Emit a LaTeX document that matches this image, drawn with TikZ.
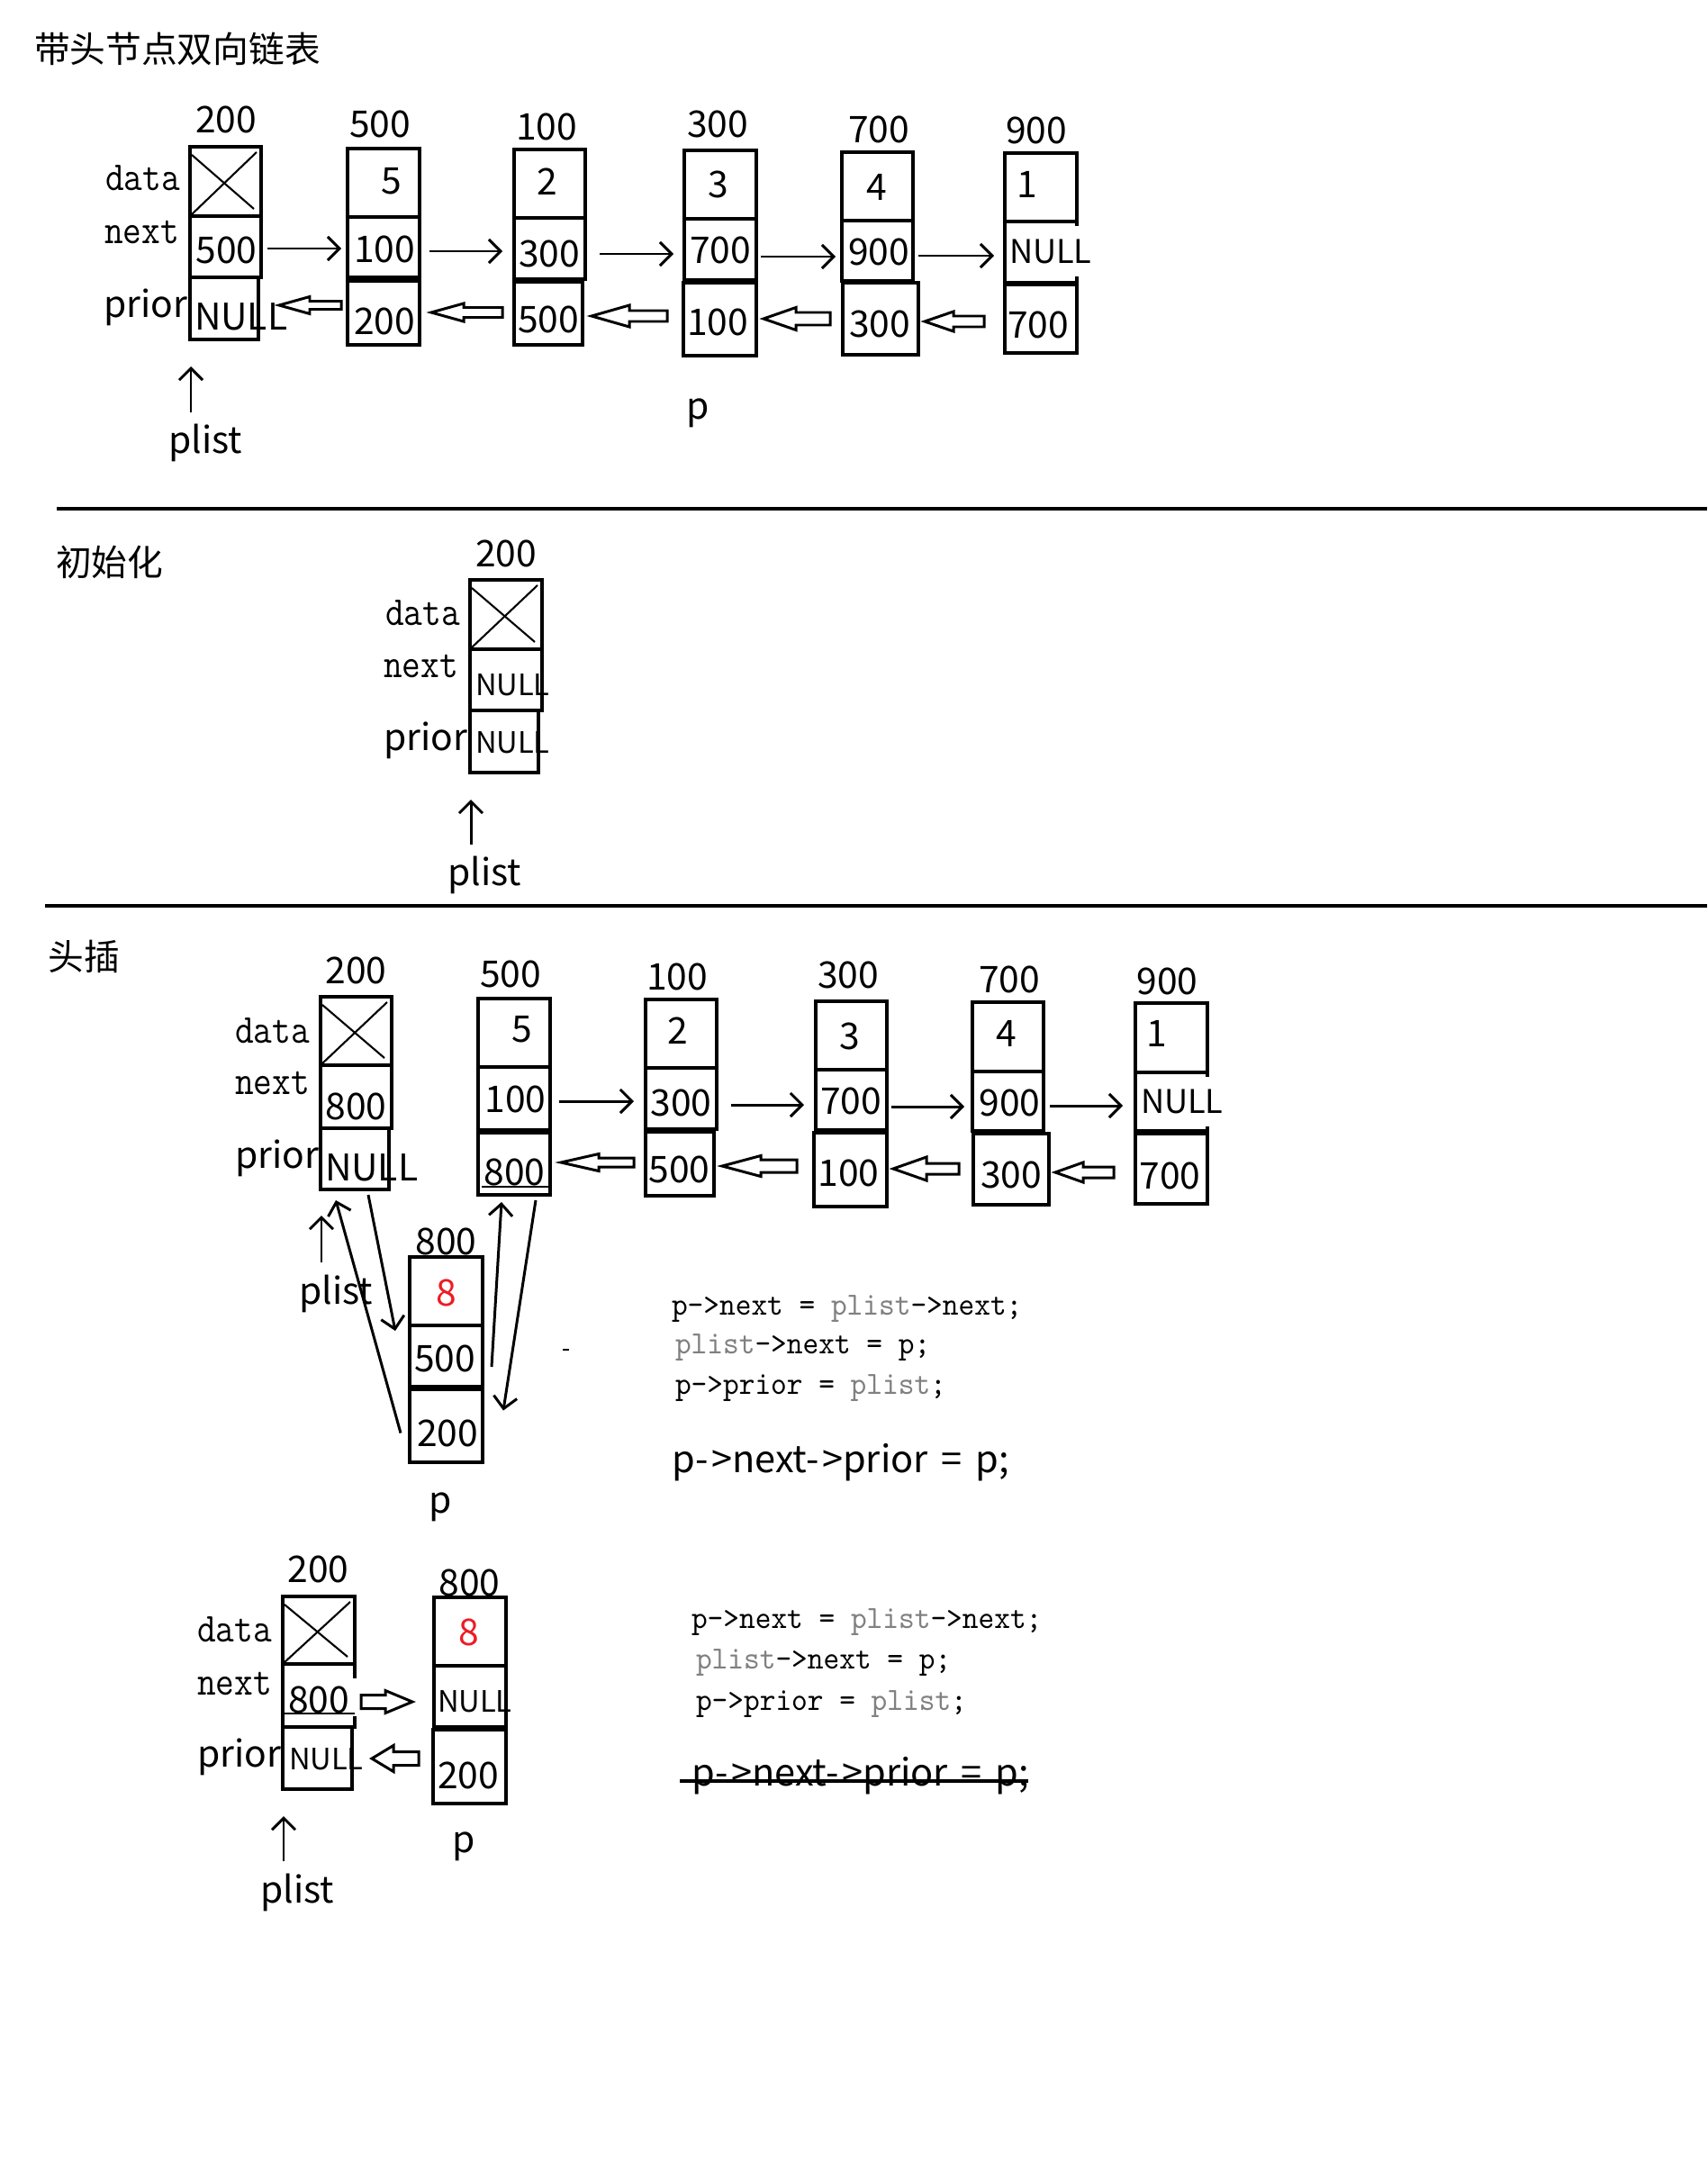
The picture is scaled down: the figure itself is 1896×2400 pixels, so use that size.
\documentclass[tikz,border=0pt]{standalone}
\usepackage{fontspec}
\usetikzlibrary{calc,arrows.meta}
\newfontfamily\sansfam{Noto Sans CJK SC}
\definecolor{codegray}{RGB}{128,128,128}
\definecolor{paintred}{RGB}{237,28,36}

\newcommand\lblfont{\sansfam\fontsize{11.6pt}{14pt}\selectfont}
\newcommand\smallnull{\sansfam\fontsize{9.3pt}{11pt}\selectfont}
\newcommand\midnull{\sansfam\fontsize{10.3pt}{12pt}\selectfont}
\newcommand\headfont{\sansfam\fontsize{11.3pt}{14pt}\selectfont}
\newcommand\fieldfont{\ttfamily\fontsize{13pt}{15pt}\selectfont}
\newcommand\codefont{\ttfamily\fontsize{10.2pt}{12pt}\selectfont}
\newcommand\bigcodefont{\sansfam\fontsize{11.8pt}{15pt}\selectfont}
\newcommand\gr[1]{\textcolor{codegray}{#1}}
% field names and code are set a little narrower than the typewriter face
\newcommand\fieldtext[1]{\scalebox{0.88}[1]{#1}}
\newcommand\codetext[1]{\scalebox{0.94}[1]{#1}}
\newcommand\arrowop{-\hspace{0.09em}>}
\newcommand\bigcodetext{p\arrowop next\arrowop prior\hspace{0.36em}=\hspace{0.36em}p;}

% one field of a list node: name, left x, top y, width, height
\newcommand\cellnode[5]{\node[cell, minimum width={#4*0.01cm}, minimum height={#5*0.01cm}] (#1) at (#2,#3) {};}
% hollow block arrow: tip, tail end, head length, half head width, half tail width
\newcommand\hollowarrow[5]{%
  \draw[blockarrow] let \p1=(#1), \p2=(#2) in
    (\x1,\y1) -- ($(\x1,\y1)+(#3,#4)$) -- ($(\x1,\y1)+(#3,#5)$) -- ($(\x2,\y1)+(0,#5)$)
    -- ($(\x2,\y1)+(0,-#5)$) -- ($(\x1,\y1)+(#3,-#5)$) -- ($(\x1,\y1)+(#3,-#4)$) -- cycle;}
% cross marking an unused data field
\newcommand\crossed[1]{%
  \draw[crossline] ($(#1.north west)+(2,9)$) -- ($(#1.south east)+(-8,-8)$);
  \draw[crossline] ($(#1.north east)+(-5,6)$) -- ($(#1.south west)+(1,-1)$);}

\begin{document}
\begin{tikzpicture}[x=0.01cm,y=-0.01cm,
  cell/.style={draw, line width=0.9pt, anchor=north west, inner sep=0, outer sep=0},
  lbl/.style={inner sep=0, outer sep=0, font=\lblfont},
  field/.style={inner sep=0, outer sep=0, font=\fieldfont, anchor=base west},
  code/.style={inner sep=0, outer sep=0, font=\codefont, anchor=base west},
  bigcode/.style={inner sep=0, outer sep=0, font=\bigcodefont, anchor=base west},
  head/.style={inner sep=0, outer sep=0, font=\headfont, anchor=base west},
  nextarr/.style={line width=0.85pt, -{Straight Barb[length=3.7pt,width=7.4pt]}},
  blockarrow/.style={line width=0.85pt, fill=white, line join=miter},
  crossline/.style={line width=0.6pt},
  rule/.style={line width=0.9pt},
  thinline/.style={line width=0.4pt}]

\fill[white] (0,0) rectangle (1896,2400);
\useasboundingbox (0,0) rectangle (1896,2400);

% ---------------- doubly linked list with a head node ----------------
\node[head] (title1) at (38,70) {带头节点双向链表};

\cellnode{A-d}{211}{163}{79}{77}\cellnode{A-n}{211}{240}{79}{68}\cellnode{A-p}{211}{308}{76}{69}
\cellnode{B-d}{386}{165}{80}{76}\cellnode{B-n}{386}{241}{80}{67}\cellnode{B-p}{386}{312}{80}{71}
\cellnode{C-d}{571}{166}{79}{76}\cellnode{C-n}{571}{242}{79}{68}\cellnode{C-p}{571}{313}{76}{70}
\cellnode{D-d}{760}{167}{80}{76}\cellnode{D-n}{760}{243}{80}{68}\cellnode{D-p}{759}{314}{81}{81}
\cellnode{E-d}{935}{169}{79}{76}\cellnode{E-n}{935}{245}{79}{67}\cellnode{E-p}{936}{314}{84}{80}
\cellnode{F-d}{1116}{170}{80}{76}\cellnode{F-n}{1116}{246}{80}{68}\cellnode{F-p}{1116}{316}{80}{76}
\crossed{A-d}

\node[field] (A-fd) at (117,212) {\fieldtext{data}};
\node[field] (A-fn) at (116,271) {\fieldtext{next}};
\node[lbl, anchor=base west] (A-fp) at (115,352) {prior};

\node[lbl] (A-lab) at (251,133) {200};
\node[lbl] (A-nv) at (251.5,278) {500};
\node[lbl, anchor=west] (A-null) at (216,352) {NULL};
\node[lbl] (B-lab) at (422,138) {500};
\node[lbl] (B-dv) at (435,201) {5};
\node[lbl] (B-nv) at (427,277) {100};
\node[lbl] (B-pv) at (427,357) {200};
\node[lbl] (C-lab) at (607,141) {100};
\node[lbl] (C-dv) at (608,202) {2};
\node[lbl] (C-nv) at (610,282) {300};
\node[lbl] (C-pv) at (609,355) {500};
\node[lbl] (D-lab) at (797,138) {300};
\node[lbl] (D-dv) at (798,205) {3};
\node[lbl] (D-nv) at (800,278) {700};
\node[lbl] (D-pv) at (797,358) {100};
\node[lbl] (E-lab) at (976,144) {700};
\node[lbl] (E-dv) at (974,208) {4};
\node[lbl] (E-nv) at (976,280) {900};
\node[lbl] (E-pv) at (977,360) {300};
\node[lbl] (F-lab) at (1151,145) {900};
\node[lbl] (F-dv) at (1141,205) {1};
\node[lbl, font=\midnull, anchor=west, fill=white, inner ysep=4pt] (F-null) at (1121,279) {NULL};
\node[lbl] (F-pv) at (1153,361) {700};

\node[lbl, anchor=base] (plist1) at (228,503) {plist};
\node[lbl, anchor=base] (p1) at (775,465) {p};

\draw[nextarr] (A-n.east) ++(7,2) -- ($(A-n.east -| B-n.west)+(-7,2)$);
\draw[nextarr] (B-n.east) ++(11,4.5) -- ($(B-n.east -| C-n.west)+(-13,4.5)$);
\draw[nextarr] (C-n.east) ++(16,6) -- ($(C-n.east -| D-n.west)+(-12,6)$);
\draw[nextarr] (D-n.east) ++(5,8) -- ($(D-n.east -| E-n.west)+(-7,8)$);
\draw[nextarr] (E-n.east) ++(6,5.5) -- ($(E-n.east -| F-n.west)+(-12,5.5)$);

\hollowarrow{$(A-p.east)+(23,-3.5)$}{$(B-p.west)+(-7,0)$}{34}{9.5}{4.5}
\hollowarrow{$(B-p.east)+(13,-0.5)$}{$(C-p.west)+(-13,0)$}{36}{10}{5.5}
\hollowarrow{$(C-p.east)+(10,3)$}{$(D-p.west)+(-18,0)$}{42}{12}{6}
\hollowarrow{$(D-p.east)+(8,-0.5)$}{$(E-p.west)+(-14,0)$}{36}{12.5}{7}
\hollowarrow{$(E-p.east)+(7,3)$}{$(F-p.west)+(-23,0)$}{32}{11}{6}

\draw[nextarr] (A-p.south west) ++(1,81) -- ($(A-p.south west)+(1,30)$);

\draw[rule] (63,565) -- (1896,565);

% ---------------- initialisation ----------------
\node[head] (title2) at (62,639) {初始化};
\cellnode{G-d}{522}{644}{80}{77}\cellnode{G-n}{522}{721}{80}{68}\cellnode{G-p}{522}{789}{76}{69}
\crossed{G-d}
\node[lbl] (G-lab) at (562,615) {200};
\node[field] (G-fd) at (428,694) {\fieldtext{data}};
\node[field] (G-fn) at (426,752) {\fieldtext{next}};
\node[lbl, anchor=base west] (G-fp) at (426,833) {prior};
\node[lbl, font=\smallnull, anchor=west] (G-nnull) at (528,760.5) {NULL};
\node[lbl, font=\smallnull, anchor=west] (G-pnull) at (528,824.5) {NULL};
\node[lbl, anchor=base] (plist2) at (538,983) {plist};
\draw[nextarr] (G-p.south west) ++(1,80) -- ($(G-p.south west)+(1,30)$);

\draw[rule] (50,1006) -- (1896,1006);

% ---------------- head insertion ----------------
\node[head] (title3) at (54,1077) {头插};
\cellnode{H-d}{356}{1107}{79}{76}\cellnode{H-n}{356}{1183}{79}{70}\cellnode{H-p}{356}{1253}{76}{68}
\cellnode{I-d}{531}{1109}{80}{76}\cellnode{I-n}{531}{1185}{80}{70}\cellnode{I-p}{531}{1258}{80}{69}
\cellnode{J-d}{455}{1396}{81}{76}\cellnode{J-n}{455}{1472}{81}{68}\cellnode{J-p}{455}{1543}{81}{81}
\cellnode{K-d}{717}{1110}{79}{76}\cellnode{K-n}{717}{1186}{79}{68}\cellnode{K-p}{717}{1257}{76}{71}
\cellnode{L-d}{906}{1112}{79}{76}\cellnode{L-n}{906}{1188}{79}{67}\cellnode{L-p}{904}{1258}{81}{82}
\cellnode{M-d}{1080}{1113}{79}{77}\cellnode{M-n}{1080}{1190}{79}{66}\cellnode{M-p}{1081}{1259}{84}{79}
\cellnode{N-d}{1261}{1114}{80}{77}\cellnode{N-n}{1261}{1191}{80}{65}\cellnode{N-p}{1261}{1259}{80}{78}
\crossed{H-d}

\node[field] (H-fd) at (261,1158) {\fieldtext{data}};
\node[field] (H-fn) at (261,1215) {\fieldtext{next}};
\node[lbl, anchor=base west] (H-fp) at (261,1297) {prior};

\node[lbl] (H-lab) at (395.5,1078) {200};
\node[lbl] (H-nv) at (395.5,1229) {800};
\node[lbl, anchor=west] (H-null) at (361,1296.5) {NULL};
\node[lbl] (I-lab) at (567,1081.5) {500};
\node[lbl] (I-dv) at (580,1143.5) {5};
\node[lbl] (I-nv) at (572.5,1221) {100};
\node[lbl] (I-pv) at (571.5,1301.5) {800};
\draw[thinline] ($(I-p.south west)+(4,-9)$) -- ($(I-p.south east)+(0,-9)$);
\node[lbl] (J-lab) at (495.5,1378.5) {800};
\node[lbl, text=paintred] (J-dv) at (496,1435.5) {8};
\node[lbl] (J-nv) at (494,1509) {500};
\node[lbl] (J-pv) at (497,1591.5) {200};
\node[lbl] (K-lab) at (752,1085) {100};
\node[lbl] (K-dv) at (753,1145) {2};
\node[lbl] (K-nv) at (756.5,1225) {300};
\node[lbl] (K-pv) at (754.5,1299) {500};
\node[lbl] (L-lab) at (942,1083) {300};
\node[lbl] (L-dv) at (944,1151) {3};
\node[lbl] (L-nv) at (945,1223) {700};
\node[lbl] (L-pv) at (942.5,1302.5) {100};
\node[lbl] (M-lab) at (1121,1088) {700};
\node[lbl] (M-dv) at (1118,1148) {4};
\node[lbl] (M-nv) at (1121.5,1225) {900};
\node[lbl] (M-pv) at (1123,1304.5) {300};
\node[lbl] (N-lab) at (1296.5,1089.5) {900};
\node[lbl] (N-dv) at (1285,1148) {1};
\node[lbl, font=\midnull, anchor=west, fill=white, inner ysep=4pt] (N-null) at (1267,1223.5) {NULL};
\node[lbl] (N-pv) at (1299.5,1305.5) {700};

\node[lbl, anchor=base] (plist3) at (373,1448) {plist};
\node[lbl, anchor=base] (p3) at (489,1680) {p};

\draw[nextarr] (H-p.south west) ++(1,81) -- ($(H-p.south west)+(1,29)$);

\draw[nextarr] (I-n.east) ++(10,3) -- ($(I-n.east -| K-n.west)+(-13,3)$);
\draw[nextarr] (K-n.east) ++(16,7) -- ($(K-n.east -| L-n.west)+(-13,7)$);
\draw[nextarr] (L-n.east) ++(5,7.5) -- ($(L-n.east -| M-n.west)+(-9,7.5)$);
\draw[nextarr] (M-n.east) ++(7,5) -- ($(M-n.east -| N-n.west)+(-14,5)$);

\hollowarrow{$(I-p.east)+(12,-1.5)$}{$(K-p.west)+(-13,0)$}{42}{9.5}{5}
\hollowarrow{$(K-p.east)+(9,2.5)$}{$(L-p.west)+(-19,0)$}{43}{11.5}{7}
\hollowarrow{$(L-p.east)+(7,-1)$}{$(M-p.west)+(-16,0)$}{37}{13}{6}
\hollowarrow{$(M-p.east)+(7,3.5)$}{$(N-p.west)+(-24,0)$}{31}{11}{6}

% links of the new node p
\draw[nextarr] (H-p.south) ++(15,6) -- ($(J-n.west)+(-16,-28)$);
\draw[nextarr] (J-p.west) ++(-10,8) -- ($(H-p.south)+(-21,12)$);
\draw[nextarr] (J-n.east) ++(10,12) -- ($(I-p.south)+(-14,8)$);
\draw[nextarr] (I-p.south) ++(24,6) -- ($(J-p.east)+(23,-17)$);
\draw[crossline] (625,1499) -- (632,1499);

\node[code] (code1a) at (746,1460) {\codetext{p->next = \gr{plist}->next;}};
\node[code] (code1b) at (750,1503) {\codetext{\gr{plist}->next = p;}};
\node[code] (code1c) at (750,1548) {\codetext{p->prior = \gr{plist};}};
\node[bigcode] (code1d) at (746,1635) {\bigcodetext};

% ---------------- insertion into the empty list ----------------
\cellnode{O-d}{314}{1773}{80}{75}\cellnode{O-n}{314}{1848}{80}{70}\cellnode{O-p}{314}{1918}{77}{69}
\cellnode{P-d}{482}{1774}{80}{76}\cellnode{P-n}{482}{1850}{80}{68}\cellnode{P-p}{481}{1921}{81}{82}
\crossed{O-d}
\fill[white] (391,1864) rectangle (397,1906);

\node[field] (O-fd) at (219,1823) {\fieldtext{data}};
\node[field] (O-fn) at (219,1882) {\fieldtext{next}};
\node[lbl, anchor=base west] (O-fp) at (219,1962) {prior};
\node[lbl] (O-lab) at (353.5,1743) {200};
\node[lbl] (O-nv) at (354,1887.5) {800};
\draw[thinline] ($(O-n.south west)+(0,-15)$) -- ($(O-n.south east)+(0,-15)$);
\node[lbl, font=\smallnull, anchor=west] (O-null) at (321,1953.5) {NULL};
\node[lbl] (P-lab) at (521.5,1757.5) {800};
\node[lbl, text=paintred] (P-dv) at (521,1812.5) {8};
\node[lbl, font=\smallnull, anchor=west] (P-null) at (486,1890) {NULL};
\node[lbl] (P-pv) at (520,1972) {200};
\node[lbl, anchor=base] (plist4) at (330,2113) {plist};
\node[lbl, anchor=base] (p4) at (515,2057) {p};

\draw[nextarr] (O-p.south west) ++(1,80) -- ($(O-p.south west)+(1,30)$);
\hollowarrow{$(P-n.west)+(-24,6)$}{$(O-n.east)+(7,0)$}{-30}{12.5}{7.5}
\hollowarrow{$(O-p.east)+(22,0.5)$}{$(P-p.west)+(-16,0)$}{24}{14.5}{7.5}

\node[code] (code2a) at (768,1808) {\codetext{p->next = \gr{plist}->next;}};
\node[code] (code2b) at (773,1853) {\codetext{\gr{plist}->next = p;}};
\node[code] (code2c) at (773,1899) {\codetext{p->prior = \gr{plist};}};
\node[bigcode] (code2d) at (768,1983) {\bigcodetext};
\draw[rule] ($(code2d.base west)+(-13,-5)$) -- ($(code2d.base east)+(-1,-5)$);

\end{tikzpicture}
\end{document}
